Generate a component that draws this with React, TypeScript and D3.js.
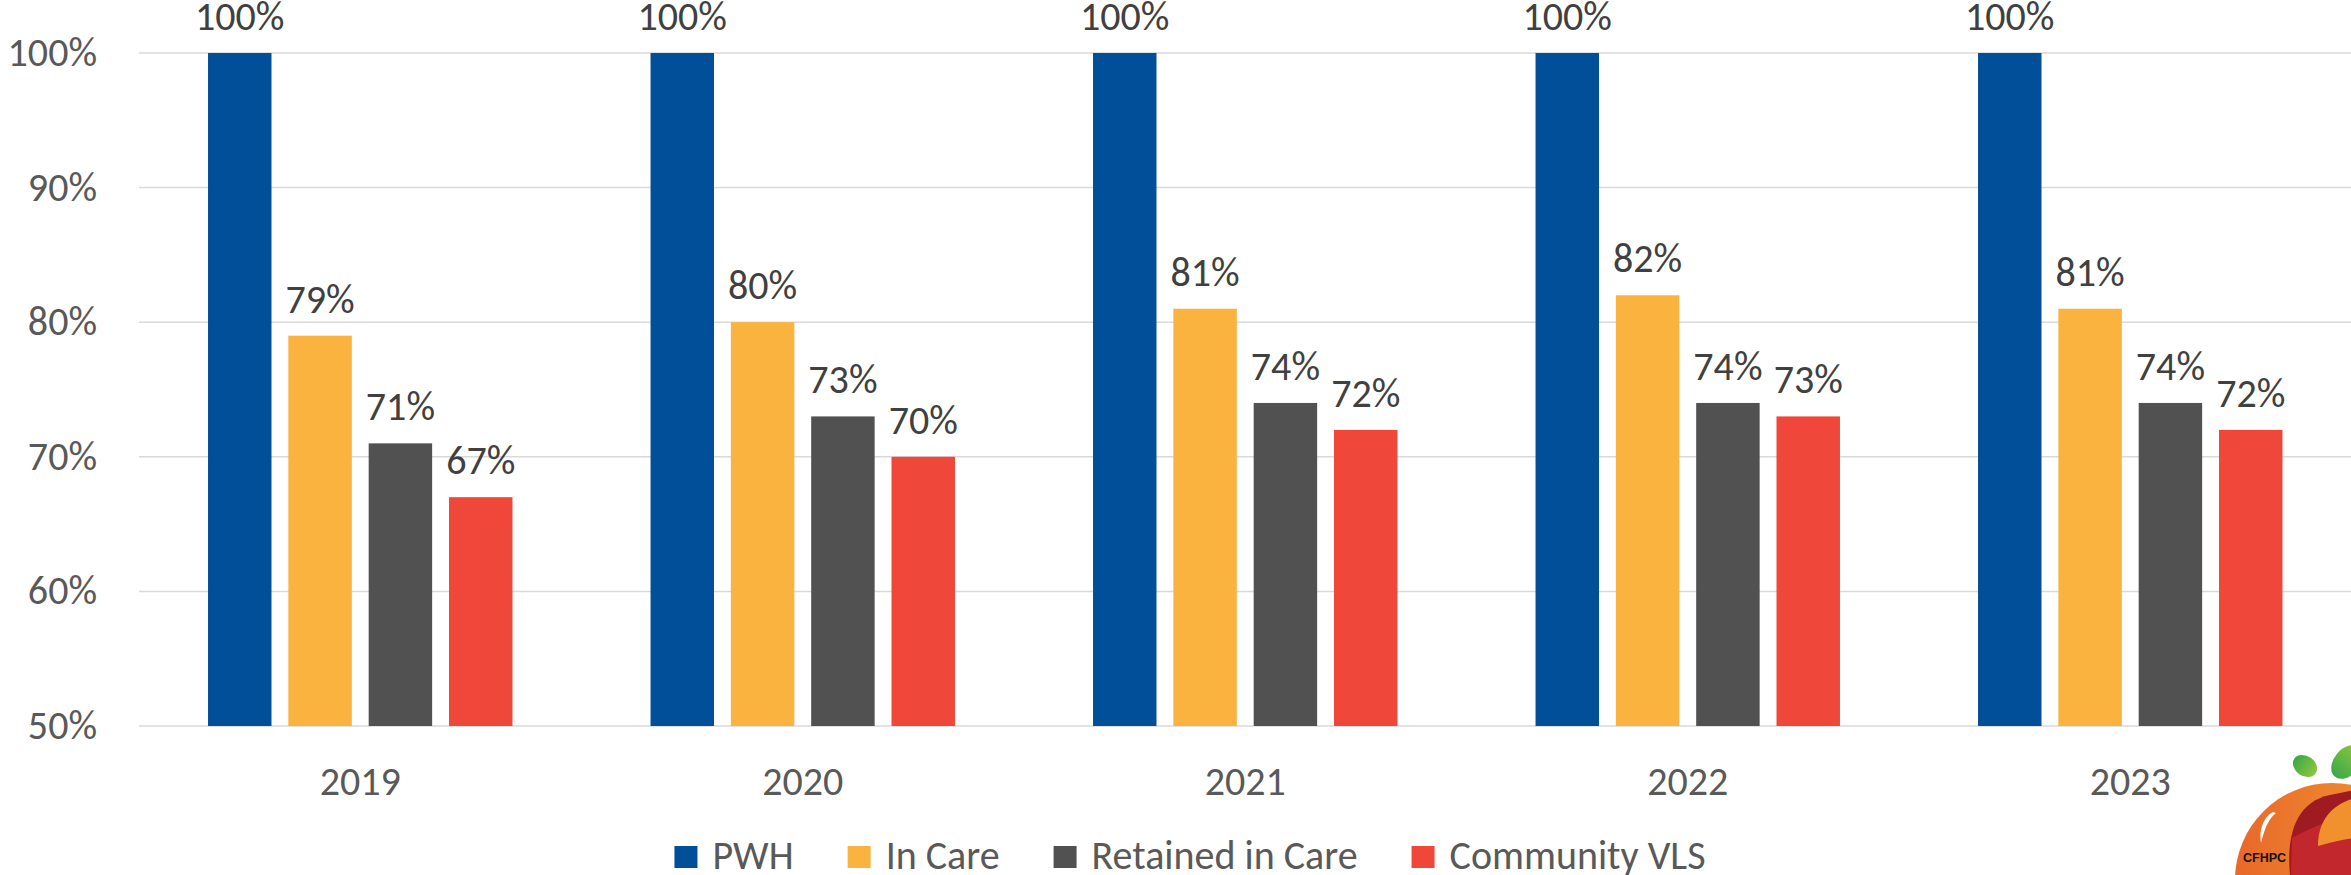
import React, { useEffect, useRef } from 'react';
import * as d3 from 'd3';

const years = ['2019', '2020', '2021', '2022', '2023'];
const seriesNames = ['PWH', 'In Care', 'Retained in Care', 'Community VLS'];
const seriesColors = ['#004F98', '#FAB33F', '#515151', '#EF473A'];
const pwh = [100, 100, 100, 100, 100];
const inCare = [79, 80, 81, 82, 81];
const retained = [71, 73, 74, 74, 74];
const communityVLS = [67, 70, 72, 73, 72];
const yTicks = [50, 60, 70, 80, 90, 100];

const W = 2351;
const H = 875;
const FONT = 'Carlito, Lato, "Open Sans", sans-serif';
const FS = 40;

const App = () => {
  const svgRef = useRef<SVGSVGElement>(null);

  useEffect(() => {
    if (!svgRef.current) return;
    const svg = d3.select(svgRef.current);
    svg.selectAll('*').remove();

    const values = [pwh, inCare, retained, communityVLS];
    const plotLeft = 139;
    const plotRight = 2351.5;

    const x0 = d3.scaleBand().domain(years).range([plotLeft, plotRight]).padding(0);
    const bw = x0.bandwidth();
    const x1 = d3.scaleBand()
      .domain(seriesNames)
      .range([bw * 0.156, bw * 0.844])
      .paddingInner(0.21)
      .paddingOuter(0);
    const y = d3.scaleLinear().domain([50, 100]).range([726, 53]);

    // gridlines + y labels
    const grid = svg.append('g');
    grid.selectAll('line')
      .data(yTicks)
      .enter()
      .append('line')
      .attr('x1', plotLeft)
      .attr('x2', W)
      .attr('y1', d => y(d))
      .attr('y2', d => y(d))
      .attr('stroke', '#D9D9D9')
      .attr('stroke-width', 1.5);
    grid.selectAll('text')
      .data(yTicks)
      .enter()
      .append('text')
      .attr('x', 97)
      .attr('y', d => y(d) + 13)
      .attr('text-anchor', 'end')
      .attr('font-family', FONT)
      .attr('font-size', FS)
      .attr('fill', '#595959')
      .text(d => `${d}%`);

    // bars
    seriesNames.forEach((name, si) => {
      const g = svg.append('g');
      const vals = values[si];
      g.selectAll('rect')
        .data(vals)
        .enter()
        .append('rect')
        .attr('x', (d, i) => (x0(years[i]) as number) + (x1(name) as number))
        .attr('y', d => y(d))
        .attr('width', x1.bandwidth())
        .attr('height', d => y(50) - y(d))
        .attr('fill', seriesColors[si]);
      g.selectAll('text')
        .data(vals)
        .enter()
        .append('text')
        .attr('x', (d, i) => (x0(years[i]) as number) + (x1(name) as number) + x1.bandwidth() / 2)
        .attr('y', d => y(d) - 23)
        .attr('text-anchor', 'middle')
        .attr('font-family', FONT)
        .attr('font-size', FS)
        .attr('fill', '#404040')
        .text(d => `${d}%`);
    });

    // category labels
    svg.append('g')
      .selectAll('text')
      .data(years)
      .enter()
      .append('text')
      .attr('x', d => (x0(d) as number) + bw / 2)
      .attr('y', 795)
      .attr('text-anchor', 'middle')
      .attr('font-family', FONT)
      .attr('font-size', FS)
      .attr('fill', '#595959')
      .text(d => d);

    // legend, measured then centred
    const legend = svg.append('g');
    const sq = 23;
    const textGap = 15;
    const itemGap = 54;
    const items = seriesNames.map((name, i) => {
      const it = legend.append('g');
      it.append('rect')
        .attr('width', sq)
        .attr('height', 22)
        .attr('y', 846)
        .attr('fill', seriesColors[i]);
      const t = it.append('text')
        .attr('x', sq + textGap)
        .attr('y', 869)
        .attr('font-family', FONT)
        .attr('font-size', FS)
        .attr('fill', '#595959')
        .text(name);
      const w = (t.node() as SVGTextElement).getComputedTextLength();
      return { it, w: sq + textGap + w };
    });
    const total = d3.sum(items, d => d.w) + itemGap * (items.length - 1);
    let cx = 1190 - total / 2;
    items.forEach(d => {
      d.it.attr('transform', `translate(${cx},0)`);
      cx += d.w + itemGap;
    });

    // logo (bottom right)
    const defs = svg.append('defs');
    const og = defs.append('linearGradient').attr('id', 'orangeGrad')
      .attr('x1', '0%').attr('x2', '100%').attr('y1', '0%').attr('y2', '0%');
    og.append('stop').attr('offset', '0%').attr('stop-color', '#E8682A');
    og.append('stop').attr('offset', '100%').attr('stop-color', '#F39C31');
    const gg = defs.append('linearGradient').attr('id', 'leafGrad')
      .attr('x1', '0%').attr('x2', '100%').attr('y1', '0%').attr('y2', '0%');
    gg.append('stop').attr('offset', '0%').attr('stop-color', '#3AA948');
    gg.append('stop').attr('offset', '100%').attr('stop-color', '#8DC63F');
    defs.append('clipPath').attr('id', 'logoClip')
      .append('circle').attr('cx', 2332).attr('cy', 880).attr('r', 97);

    const logo = svg.append('g');
    logo.append('ellipse')
      .attr('cx', 2305).attr('cy', 766).attr('rx', 13).attr('ry', 10)
      .attr('transform', 'rotate(35 2305 766)')
      .attr('fill', 'url(#leafGrad)');
    logo.append('ellipse')
      .attr('cx', 2347).attr('cy', 762).attr('rx', 19).attr('ry', 13)
      .attr('transform', 'rotate(-50 2347 762)')
      .attr('fill', 'url(#leafGrad)');
    logo.append('circle')
      .attr('cx', 2332).attr('cy', 880).attr('r', 97)
      .attr('fill', 'url(#orangeGrad)');
    const inner = logo.append('g').attr('clip-path', 'url(#logoClip)');
    inner.append('path')
      .attr('d', 'M2290 875 C2286 835 2296 802 2330 795 L2355 790 L2355 875 Z')
      .attr('fill', '#9E1B21');
    inner.append('path')
      .attr('d', 'M2291 875 L2292 838 C2310 828 2335 818 2355 814 L2355 875 Z')
      .attr('fill', '#C1272D');
    inner.append('path')
      .attr('d', 'M2318 846 C2318 818 2335 803 2355 798 L2355 838 C2340 840 2326 844 2318 846 Z')
      .attr('fill', '#F0912E');
    inner.append('path')
      .attr('d', 'M2273 812 C2262 818 2259 832 2261 843 C2264 832 2267 820 2276 813 Z')
      .attr('fill', '#FFFFFF');
    logo.append('text')
      .attr('x', 2243)
      .attr('y', 862)
      .attr('font-family', '"Liberation Sans", Arial, sans-serif')
      .attr('font-weight', 'bold')
      .attr('font-size', 12.5)
      .attr('fill', '#111111')
      .text('CFHPC');
  }, []);

  return (
    <svg
      ref={svgRef}
      width={W}
      height={H}
      style={{ position: 'absolute', left: 0, top: 0, display: 'block', background: '#fff' }}
    />
  );
};

export default App;
